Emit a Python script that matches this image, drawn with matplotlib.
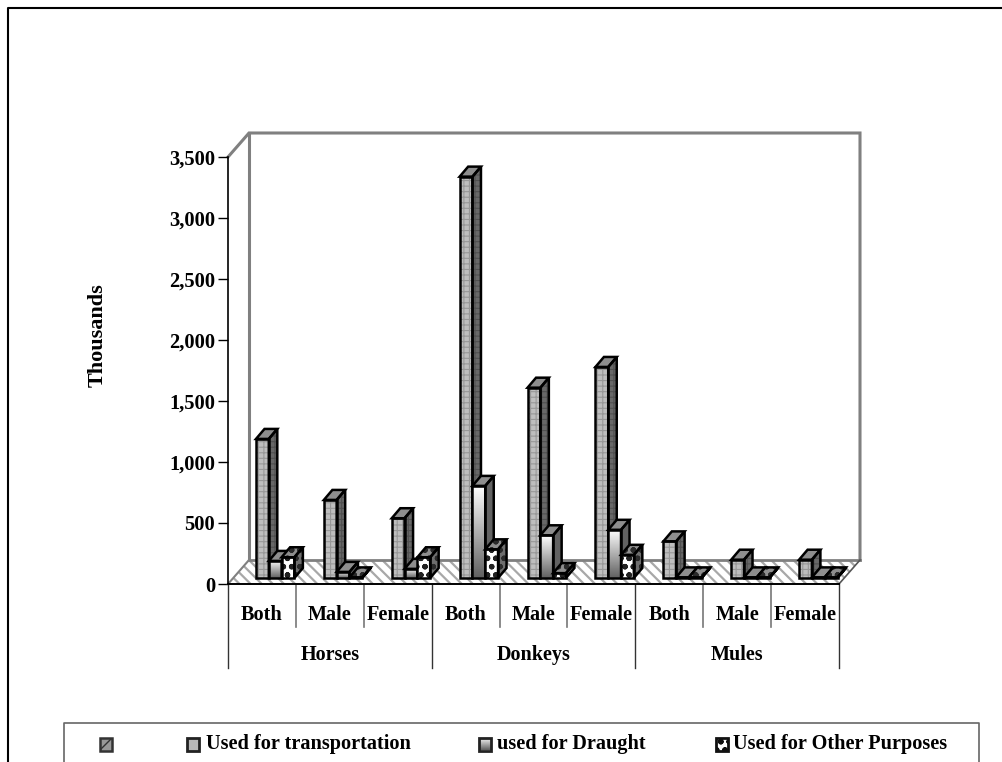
import numpy as np
import matplotlib
matplotlib.use('Agg')
import matplotlib.pyplot as plt
from matplotlib.patches import Polygon, Rectangle

plt.rcParams['font.family'] = ['Liberation Serif', 'DejaVu Serif']
plt.rcParams['font.weight'] = 'bold'

W, H = 1002, 762

groups = ['Horses', 'Donkeys', 'Mules']
categories = ['Both', 'Male', 'Female'] * 3
transport = [1140, 640, 490, 3290, 1560, 1730, 300, 150, 150]
draught = [140, 50, 75, 755, 350, 395, 5, 5, 5]
other = [170, 5, 170, 235, 40, 190, 5, 5, 5]
yticks = [0, 500, 1000, 1500, 2000, 2500, 3000, 3500]
legend_labels = ['Used for transportation', 'used for Draught', 'Used for Other Purposes']

fig = plt.figure(figsize=(W / 100, H / 100), dpi=100)

# plain overlay in pixel coordinates, for the frame and the legend
bg = fig.add_axes([0, 0, 1, 1])
bg.set_xlim(0, W)
bg.set_ylim(H, 0)
bg.axis('off')

ax = fig.add_axes([228 / W, 1 - 584 / H, 611 / W, 427 / H])
ax.patch.set_alpha(0)
ax.set_xlim(0, 9)
ax.set_ylim(0, 3500)

# pixels to data units
px = 9 / 611
py = 3500 / 427


def draw_face(pts, face, hatch=None, hatch_col=None, z=3, hatch_lw=0.8):
    if hatch:
        p = Polygon(pts, closed=True, facecolor=face, edgecolor=hatch_col,
                    hatch=hatch, lw=0, zorder=z, clip_on=False)
        p.set_hatch_linewidth(hatch_lw)
        ax.add_patch(p)
    else:
        ax.add_patch(Polygon(pts, closed=True, facecolor=face, edgecolor='none',
                             zorder=z, clip_on=False))
    ax.add_patch(Polygon(pts, closed=True, facecolor='none', edgecolor='black',
                         lw=1.8, joinstyle='miter', zorder=z + 0.01, clip_on=False))


def draw_bar(x, val, width, kind, z):
    dx, dy = 8.5 * px, 10 * py
    y0 = 6 * py
    y1 = y0 + val
    front = [(x, y0), (x + width, y0), (x + width, y1), (x, y1)]
    side = [(x + width, y0), (x + width + dx, y0 + dy), (x + width + dx, y1 + dy), (x + width, y1)]
    top = [(x, y1), (x + width, y1), (x + width + dx, y1 + dy), (x + dx, y1 + dy)]
    if kind == 0:
        draw_face(side, '#686868', '+++', '#505050', z)
        draw_face(top, '#8e8e8e', z=z)
        draw_face(front, '#bebebe', '+++', '#989898', z)
    elif kind == 1:
        draw_face(side, '#626262', z=z)
        draw_face(top, '#8e8e8e', z=z)
        grad = np.linspace(0, 1, 64).reshape(-1, 1)
        ax.imshow(1 - grad * 0.62, extent=(x, x + width, y0, y1), aspect='auto', cmap='gray',
                  vmin=0, vmax=1, origin='upper', zorder=z, clip_on=False)
        ax.add_patch(Polygon(front, closed=True, facecolor='none', edgecolor='black',
                             lw=1.8, joinstyle='miter', zorder=z + 0.01, clip_on=False))
    else:
        draw_face(side, '#6e6e6e', 'oo', '#2a2a2a', z, 1.6)
        draw_face(top, '#8e8e8e', 'oo', '#2a2a2a', z, 1.6)
        draw_face(front, 'white', 'oo', '#222222', z, 1.6)


# back wall and left side
wx, wy = 21 * px, 24 * py
ax.plot([0, wx, 9 + wx, 9 + wx], [3500, 3500 + wy, 3500 + wy, wy], color='#808080', lw=2.2,
        clip_on=False, zorder=1, solid_joinstyle='miter')
ax.plot([wx, wx], [wy, 3500 + wy], color='#808080', lw=2.2, clip_on=False, zorder=1)

# floor
floor = [(0, 0), (9, 0), (9 + wx, wy), (wx, wy)]
fl = Polygon(floor, closed=True, facecolor='white', edgecolor='#a8a8a8',
             hatch='\\\\\\', lw=0, zorder=1.5, clip_on=False)
fl.set_hatch_linewidth(1.6)
ax.add_patch(fl)
ax.plot([wx, 9 + wx], [wy, wy], color='#808080', lw=2, clip_on=False, zorder=1.6)
ax.plot([0, wx], [0, wy], color='#808080', lw=1.5, clip_on=False, zorder=1.6)
ax.plot([9, 9 + wx], [0, wy], color='#555555', lw=1.2, clip_on=False, zorder=1.6)

bar_w = 12.8 / 67.9
for i in range(len(categories)):
    x0 = i + 28 / 67.9
    draw_bar(x0, transport[i], bar_w, 0, 3 + i)
    draw_bar(x0 + bar_w, draught[i], bar_w, 1, 3.2 + i)
    draw_bar(x0 + 2 * bar_w, other[i], bar_w, 2, 3.4 + i)

ax.set_xlim(0, 9)
ax.set_ylim(0, 3500)

# axes
for s in ['top', 'right']:
    ax.spines[s].set_visible(False)
ax.spines['left'].set_linewidth(1.2)
ax.spines['bottom'].set_linewidth(1.4)
ax.set_yticks(yticks)
ax.set_yticklabels([f'{v:,}' for v in yticks], fontsize=14.8, fontweight='bold')
ax.tick_params(axis='y', length=7.2, width=1, pad=2)
ax.set_xticks(np.arange(9) + 0.5)
ax.set_xticklabels(categories, fontsize=14.6, fontweight='bold')
ax.tick_params(axis='x', length=0, pad=15)

# multi level category separators
trans = ax.get_xaxis_transform()
for i in range(10):
    if i % 3 == 0:
        ax.plot([i, i], [0, -84 / 427], transform=trans, color='#333333', lw=1, clip_on=False)
    else:
        ax.plot([i, i], [0, -43 / 427], transform=trans, color='#777777', lw=1.2, clip_on=False)
for i, g in enumerate(groups):
    ax.text(3 * i + 1.5, -71 / 427, g, transform=trans, ha='center', va='center',
            fontsize=14.5, fontweight='bold')

ax.set_ylabel('Thousands', fontsize=16, fontweight='bold')
ax.yaxis.set_label_coords((108 - 228) / 611, (584 - 335) / 427)

# outer frame, cut by the edges of the picture
bg.plot([8, 8, W + 5], [H + 5, 8, 8], color='black', lw=1.5)

# legend box, also cut by the bottom edge
bg.plot([64, 64, 979, 979], [H + 5, 723, 723, H + 5], color='#666666', lw=1.2)
swatch_x = [100, 187, 479, 716]
text_x = [206, 497, 733]

# first swatch has no label
s0 = Rectangle((swatch_x[0], 738), 12.5, 12.5, facecolor='#999999', edgecolor='#333333',
               lw=1.8, hatch='//')
bg.add_patch(s0)
bg.add_patch(Rectangle((swatch_x[1], 738), 12.5, 12.5, facecolor='#b8b8b8', edgecolor='#222222', lw=2))
grad = np.linspace(0, 1, 32).reshape(-1, 1)
bg.imshow(1 - grad * 0.62, extent=(swatch_x[2], swatch_x[2] + 12.5, 750.5, 738), aspect='auto',
          cmap='gray', vmin=0, vmax=1, origin='upper')
bg.add_patch(Rectangle((swatch_x[2], 738), 12.5, 12.5, facecolor='none', edgecolor='#222222', lw=2))
s3 = Rectangle((swatch_x[3], 738), 12.5, 12.5, facecolor='white', edgecolor='#111111', lw=2, hatch='oo')
s3.set_hatch_linewidth(1.6)
bg.add_patch(s3)
bg.set_xlim(0, W)
bg.set_ylim(H, 0)
for k, lab in enumerate(legend_labels):
    bg.text(text_x[k], 744, lab, ha='left', va='center', fontsize=14.6, fontweight='bold')

fig.savefig('out.png', dpi=100)
